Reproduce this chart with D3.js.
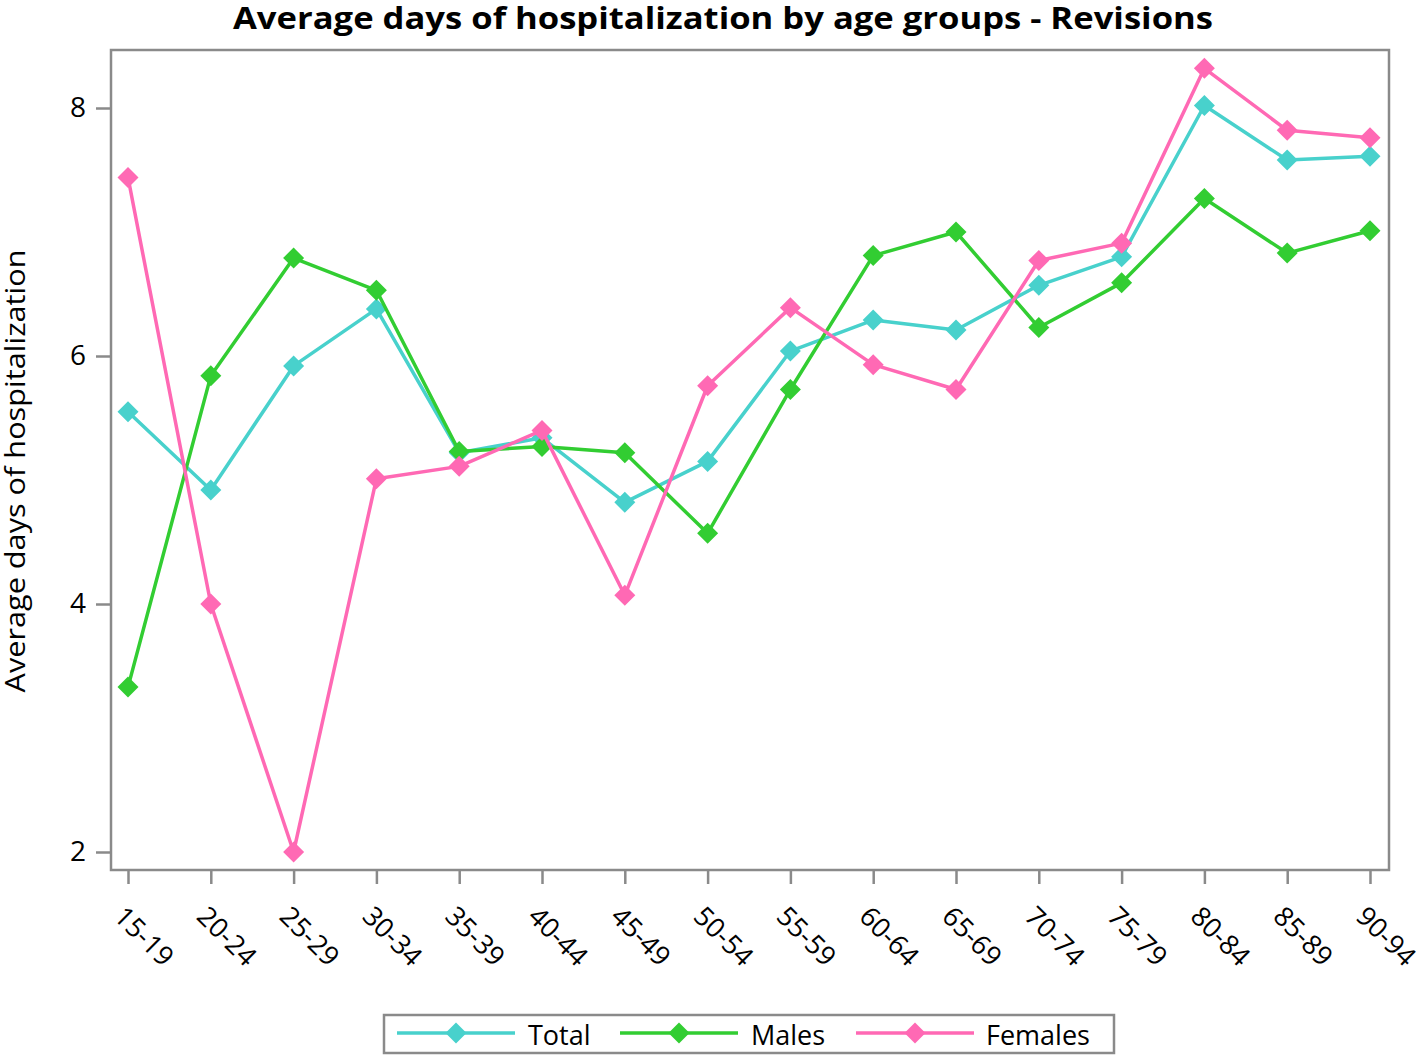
<!DOCTYPE html>
<html><head><meta charset="utf-8">
<script src="https://cdn.jsdelivr.net/npm/d3@7"></script>
<style>body{margin:0;background:#fff}svg{display:block}</style>
</head><body>
<svg id="c" width="1416" height="1057"></svg>
<script>
const categories = ["15-19","20-24","25-29","30-34","35-39","40-44","45-49","50-54","55-59","60-64","65-69","70-74","75-79","80-84","85-89","90-94"];
const total   = [5.55,4.92,5.92,6.38,5.22,5.34,4.82,5.15,6.04,6.29,6.21,6.57,6.80,8.02,7.58,7.61];
const males   = [3.33,5.84,6.79,6.53,5.23,5.27,5.22,4.57,5.73,6.81,7.00,6.23,6.59,7.27,6.83,7.01];
const females = [7.44,4.00,2.00,5.01,5.11,5.40,4.07,5.76,6.39,5.93,5.73,6.77,6.91,8.32,7.82,7.76];
const yTicks = [2,4,6,8];
const seriesNames = ["Total","Males","Females"];
const seriesColors = ["#48D1CC","#32CD32","#FF69B4"];
const seriesData = [total, males, females];

const svg = d3.select("#c");
const frame = {l:111, t:50, r:1389, b:870};
const x = d3.scalePoint().domain(categories).range([128,1370]);
const y = d3.scaleLinear().domain([2,8]).range([852,108]);
const font = "'Open Sans', 'Noto Sans', sans-serif";

// title
svg.append("text").attr("x",723).attr("y",29).attr("text-anchor","middle")
  .attr("font-family",font).attr("font-weight","bold").attr("font-size",31)
  .attr("textLength",980).attr("lengthAdjust","spacingAndGlyphs")
  .text("Average days of hospitalization by age groups - Revisions");

// frame
svg.append("rect").attr("x",frame.l).attr("y",frame.t)
  .attr("width",frame.r-frame.l).attr("height",frame.b-frame.t)
  .attr("fill","none").attr("stroke","#8a8a8a").attr("stroke-width",2.5);

// y axis
const yAxis = svg.append("g").attr("transform",`translate(${frame.l},0)`)
  .call(d3.axisLeft(y).tickValues(yTicks).tickSize(15).tickPadding(10).tickFormat(d3.format("d")));
yAxis.select(".domain").remove();
yAxis.selectAll("line").attr("stroke","#8a8a8a").attr("stroke-width",2.5);
yAxis.selectAll("text").attr("font-family",font).attr("font-size",28).attr("fill","#000");

// x axis
const xAxis = svg.append("g").attr("transform",`translate(0,${frame.b})`)
  .call(d3.axisBottom(x).tickSize(14).tickPadding(0));
xAxis.select(".domain").remove();
xAxis.selectAll("line").attr("stroke","#8a8a8a").attr("stroke-width",2.5);
xAxis.selectAll("text").attr("font-family",font).attr("font-size",27).attr("fill","#000")
  .attr("text-anchor","start").attr("dy",0).attr("y",0)
  .attr("transform","translate(-16,48) rotate(45)");

// y axis title
svg.append("text").attr("transform","translate(25,471) rotate(-90)").attr("text-anchor","middle")
  .attr("font-family",font).attr("font-size",28).attr("fill","#000")
  .attr("textLength",443).attr("lengthAdjust","spacingAndGlyphs")
  .text("Average days of hospitalization");

const diamondPath = "M0,-10.5L10.5,0L0,10.5L-10.5,0Z";

// series
seriesData.forEach((vals, i) => {
  const g = svg.append("g");
  const line = d3.line().x((d,j)=>x(categories[j])).y(d=>y(d));
  g.append("path").datum(vals).attr("d",line).attr("fill","none")
    .attr("stroke",seriesColors[i]).attr("stroke-width",3.5).attr("stroke-linejoin","round");
  g.selectAll("path.m").data(vals).join("path").attr("class","m")
    .attr("d",diamondPath)
    .attr("transform",(d,j)=>`translate(${x(categories[j])},${y(d)})`)
    .attr("fill",seriesColors[i]);
});

// legend
const lg = svg.append("g");
lg.append("rect").attr("x",384).attr("y",1015).attr("width",730).attr("height",38)
  .attr("fill","#fff").attr("stroke","#8a8a8a").attr("stroke-width",2.5);
const legX = [397,620,856];
const textX = [528,751,986];
seriesNames.forEach((n,i)=>{
  const ly = 1033;
  lg.append("line").attr("x1",legX[i]).attr("x2",legX[i]+118).attr("y1",ly).attr("y2",ly)
    .attr("stroke",seriesColors[i]).attr("stroke-width",3.5);
  lg.append("path").attr("d",diamondPath).attr("transform",`translate(${legX[i]+59},${ly})`)
    .attr("fill",seriesColors[i]);
  lg.append("text").attr("x",textX[i]).attr("y",1045).attr("font-family",font).attr("font-size",27)
    .attr("fill","#000").text(n);
});
</script>
</body></html>
